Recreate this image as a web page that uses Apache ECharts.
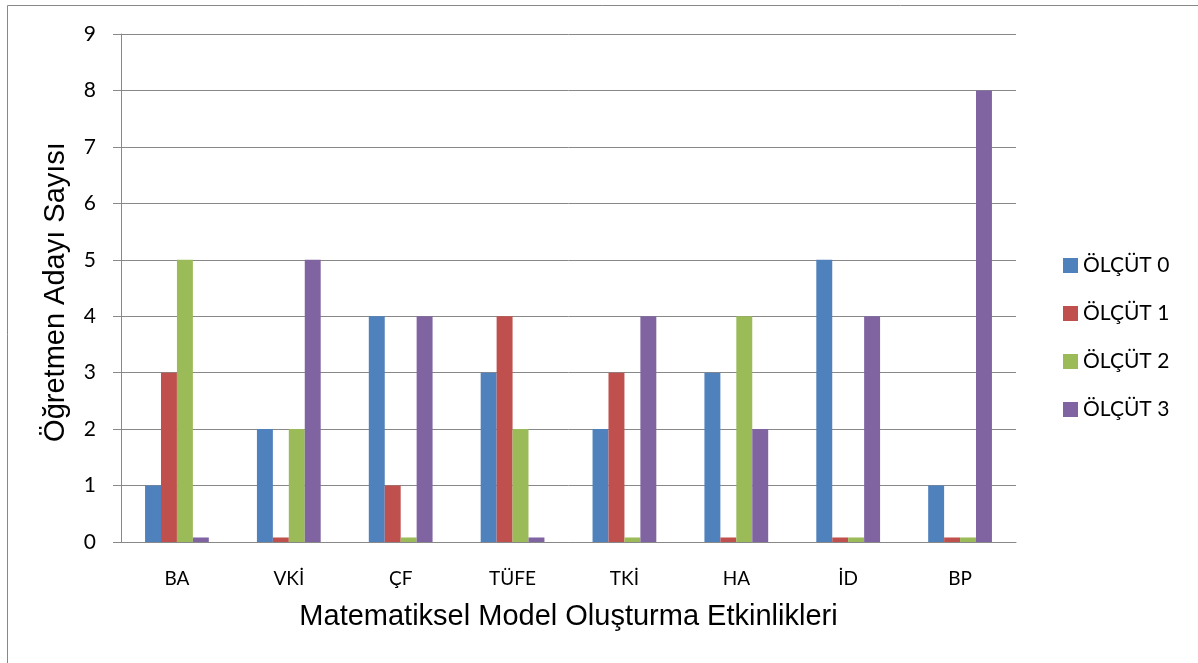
<!DOCTYPE html>
<html>
<head>
<meta charset="utf-8">
<script src="https://cdn.jsdelivr.net/npm/echarts@6/dist/echarts.min.js"></script>
<style>
  html, body { margin: 0; padding: 0; background: #fff; }
  #main { width: 1198px; height: 663px; }
</style>
</head>
<body>
<div id="main"></div>
<script>
// etkinlikler (kategoriler)
var categories = ['BA', 'VKİ', 'ÇF', 'TÜFE', 'TKİ', 'HA', 'İD', 'BP'];
var seriesNames = ['ÖLÇÜT 0', 'ÖLÇÜT 1', 'ÖLÇÜT 2', 'ÖLÇÜT 3'];
// sıfır değerler grafikte ince bir çubuk olarak görünüyor
var olcut0 = [1, 2, 4, 3, 2, 3, 5, 1];
var olcut1 = [3, 0.08, 1, 4, 3, 0.08, 0.08, 0.08];
var olcut2 = [5, 2, 0.08, 2, 0.08, 4, 0.08, 0.08];
var olcut3 = [0.08, 5, 4, 0.08, 4, 2, 4, 8];
var yTicks = [0, 1, 2, 3, 4, 5, 6, 7, 8, 9];

var colors = ['#4F81BD', '#C0504D', '#9BBB59', '#8064A2'];
var values = [olcut0, olcut1, olcut2, olcut3];

var myChart = echarts.init(document.getElementById('main'));

var series = [];
for (var i = 0; i < seriesNames.length; i++) {
  series.push({
    name: seriesNames[i],
    type: 'bar',
    data: values[i],
    barGap: '0%',
    barCategoryGap: '43%',
    itemStyle: { color: colors[i] }
  });
}

myChart.setOption({
  animation: false,
  color: colors,
  graphic: [
    // dış çerçeve (sol ve üst kenar)
    { type: 'line', shape: { x1: 7.5, y1: 5.5, x2: 1198, y2: 5.5 }, style: { stroke: '#888', lineWidth: 1 } },
    { type: 'line', shape: { x1: 7.5, y1: 5.5, x2: 7.5, y2: 663 }, style: { stroke: '#888', lineWidth: 1 } }
  ],
  grid: { left: 121, top: 34, right: 182, bottom: 121 },
  legend: {
    orient: 'vertical',
    left: 1058,
    top: 250,
    itemWidth: 15,
    itemHeight: 15,
    itemGap: 27,
    icon: 'rect',
    textStyle: { fontFamily: 'Lato', fontSize: 21, color: '#000' },
    data: seriesNames
  },
  xAxis: {
    type: 'category',
    data: categories,
    name: 'Matematiksel Model Oluşturma Etkinlikleri',
    nameLocation: 'middle',
    nameGap: 60,
    nameTextStyle: { fontFamily: 'Liberation Sans', fontSize: 29, color: '#000' },
    axisLine: { lineStyle: { color: '#888', width: 1 } },
    axisTick: { show: false },
    axisLabel: { fontFamily: 'Lato', fontSize: 19, color: '#000', margin: 27 }
  },
  yAxis: {
    type: 'value',
    min: yTicks[0],
    max: yTicks[yTicks.length - 1],
    interval: 1,
    name: 'Öğretmen Adayı Sayısı',
    nameLocation: 'middle',
    nameGap: 51,
    nameTextStyle: { fontFamily: 'Liberation Sans', fontSize: 29, color: '#000', padding: [0, 0, 0, -8] },
    axisLine: { show: true, lineStyle: { color: '#888', width: 1 } },
    axisTick: { show: true, length: 8, lineStyle: { color: '#888' } },
    splitLine: { lineStyle: { color: '#888', width: 1 } },
    axisLabel: { fontFamily: 'Lato', fontSize: 21, color: '#000', margin: 25 }
  },
  series: series
});
</script>
</body>
</html>
